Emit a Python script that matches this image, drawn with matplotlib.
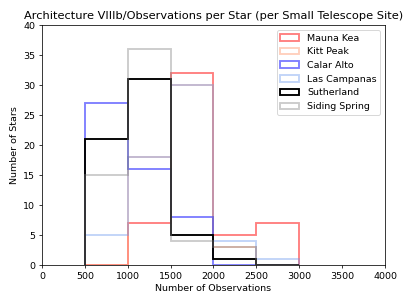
import numpy as np
import matplotlib
matplotlib.use("Agg")
import matplotlib.pyplot as plt

# Histogram bin edges (number of observations)
bin_edges = [500, 1000, 1500, 2000, 2500, 3000]

# Stars per bin for each site
sites = ["Mauna Kea", "Kitt Peak", "Calar Alto", "Las Campanas", "Sutherland", "Siding Spring"]
mauna_kea = [0, 7, 32, 5, 7]
kitt_peak = [0, 18, 30, 3, 0]
calar_alto = [27, 16, 8, 0, 0]
las_campanas = [5, 18, 30, 4, 1]
sutherland = [21, 31, 5, 1, 0]
siding_spring = [15, 36, 4, 3, 0]

colors = ["red", "lightsalmon", "blue", "cornflowerblue", "black", "gray"]
alphas = [0.5, 0.5, 0.5, 0.4, 1.0, 0.4]

counts = [mauna_kea, kitt_peak, calar_alto, las_campanas, sutherland, siding_spring]
centers = [(a + b) / 2 for a, b in zip(bin_edges[:-1], bin_edges[1:])]

dpi = 68
fig, ax = plt.subplots(figsize=(407 / dpi, 305 / dpi), dpi=dpi)

for name, c, col, al in zip(sites, counts, colors, alphas):
    ax.hist(centers, bins=bin_edges, weights=c, histtype="step",
            color=col, alpha=al, linewidth=2, label=name)

ax.set_xlim(0, 4000)
ax.set_ylim(0, 40)
ax.set_xticks(np.arange(0, 4001, 500))
ax.set_title("Architecture VIIIb/Observations per Star (per Small Telescope Site)")
ax.set_xlabel("Number of Observations")
ax.set_ylabel("Number of Stars")
ax.legend(loc="upper right")

fig.subplots_adjust(left=0.103, right=0.946, top=0.918, bottom=0.131)
plt.savefig("out.png", dpi=dpi)
